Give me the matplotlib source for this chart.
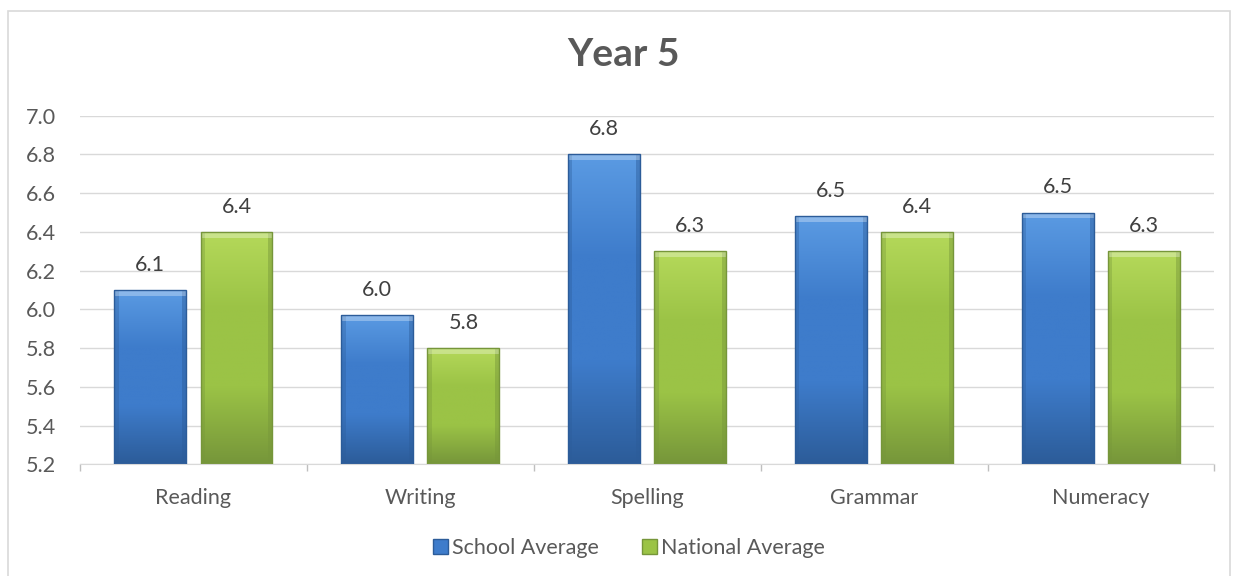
import numpy as np
import matplotlib.pyplot as plt
from matplotlib.patches import Rectangle
from matplotlib.colors import LinearSegmentedColormap

categories = ["Reading", "Writing", "Spelling", "Grammar", "Numeracy"]
school_avg = [6.1, 5.97, 6.8, 6.48, 6.5]
national_avg = [6.4, 5.8, 6.3, 6.4, 6.3]
series_names = ["School Average", "National Average"]
y_ticks = [5.2, 5.4, 5.6, 5.8, 6.0, 6.2, 6.4, 6.6, 6.8, 7.0]

plt.rcParams['font.family'] = ['Lato', 'DejaVu Sans']
text_col = '#595959'

fig = plt.figure(figsize=(12.38, 5.76), dpi=100)
ax = fig.add_axes([0.0646, 0.194, 0.9164, 0.605])

# chart frame
fig.patches.append(Rectangle((8 / 1238, -0.05), 1222 / 1238, 1.05 - 11 / 576,
                             transform=fig.transFigure, fill=False,
                             edgecolor='#D9D9D9', linewidth=1.2))

x = np.arange(len(categories))
w = 0.317
off = 0.19

# (light, mid, dark) for the shaded bar look
blue = ['#5B9BE3', '#3E7CCB', '#2C5C99']
green = ['#B5D95A', '#9BC346', '#76963A']

def shade_bars(bars, cols):
    cmap = LinearSegmentedColormap.from_list('c', [cols[2], cols[1], cols[1], cols[0]])
    grad = np.linspace(0, 1, 256).reshape(-1, 1)
    for b in bars:
        bx, by = b.get_x(), b.get_y()
        bw, bh = b.get_width(), b.get_height()
        im = ax.imshow(grad, extent=[bx, bx + bw, by, by + bh], origin='lower',
                       aspect='auto', cmap=cmap, zorder=2)
        im.set_clip_path(b)
        b.set_facecolor('none')
        b.set_edgecolor(cols[2])
        b.set_linewidth(1.0)
        b.set_zorder(3)
        # side bevels
        ax.add_patch(Rectangle((bx, by), bw * 0.06, bh, color=cols[2], alpha=0.35,
                               zorder=2.5, linewidth=0))
        ax.add_patch(Rectangle((bx + bw * 0.94, by), bw * 0.06, bh, color=cols[2],
                               alpha=0.45, zorder=2.5, linewidth=0))
        ax.add_patch(Rectangle((bx, by + bh - 0.03), bw, 0.03, color='white',
                               alpha=0.3, zorder=2.5, linewidth=0))

base = 5.2
b1 = ax.bar(x - off, np.array(school_avg) - base, w, bottom=base,
            label=series_names[0], color=blue[1])
b2 = ax.bar(x + off, np.array(national_avg) - base, w, bottom=base,
            label=series_names[1], color=green[1])
shade_bars(b1, blue)
shade_bars(b2, green)

for xs, vals in ((x - off, school_avg), (x + off, national_avg)):
    for xi, v in zip(xs, vals):
        ax.annotate(f"{v:.1f}", (xi, v), xytext=(0, 11), textcoords='offset points',
                    ha='center', va='bottom', fontsize=15.5, color='#404040')

ax.set_xlim(-0.5, len(categories) - 0.5)
ax.set_ylim(5.2, 7.0)
ax.set_yticks(y_ticks)
ax.set_yticklabels([f"{t:.1f}" for t in y_ticks])
ax.set_xticks(x)
ax.set_xticklabels(categories)
ax.set_xticks(np.arange(-0.5, len(categories)), minor=True)
ax.tick_params(axis='x', which='major', length=0, pad=17, labelsize=15.5, labelcolor=text_col)
ax.tick_params(axis='x', which='minor', length=5, color='#BFBFBF', width=1)
ax.tick_params(axis='y', length=0, pad=17, labelsize=15.5, labelcolor=text_col)
ax.grid(axis='y', color='#D9D9D9', linewidth=1)
ax.set_axisbelow(True)
for s in ('top', 'right', 'left'):
    ax.spines[s].set_visible(False)
ax.spines['bottom'].set_color('#D9D9D9')

fig.text(0.504, 1 - 55 / 576, "Year 5", ha='center', va='center', fontsize=28,
         fontweight='bold', color=text_col)

leg = fig.legend(handles=[b1, b2], labels=series_names, loc='center',
                 bbox_to_anchor=(0.508, 1 - 548 / 576), ncol=2, frameon=False,
                 fontsize=15.5, handlelength=0.7, handleheight=0.7, handletextpad=0.2,
                 columnspacing=2.0, labelcolor=text_col)
for h, cols in zip(leg.legend_handles, (blue, green)):
    h.set_facecolor(cols[1])
    h.set_edgecolor(cols[2])

fig.savefig("out.png", dpi=100)
